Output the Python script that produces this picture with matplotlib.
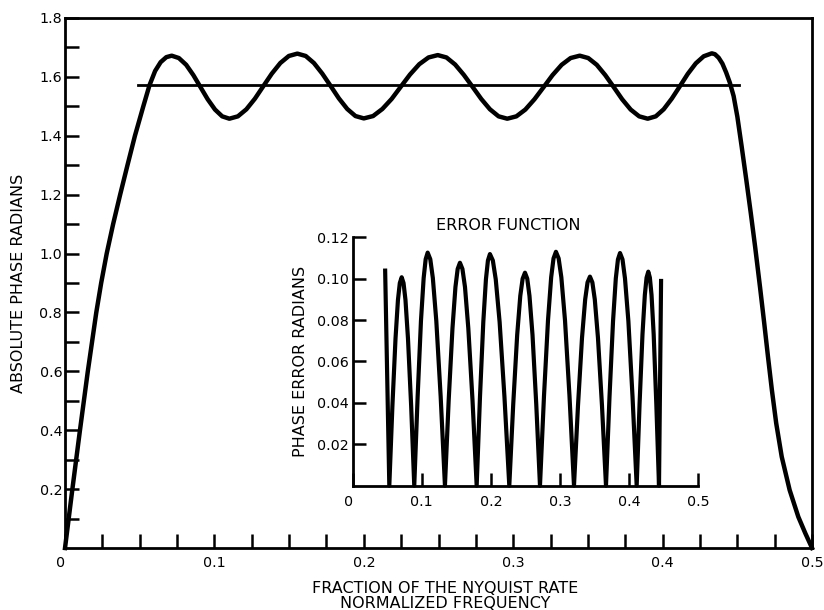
import matplotlib
matplotlib.use("Agg")
import matplotlib.pyplot as plt
from matplotlib.ticker import FixedLocator, MultipleLocator

# absolute phase of the filter
phase_x = [0.0, 0.0048, 0.0099, 0.0152, 0.0209, 0.0242, 0.0279, 0.0322, 0.0369, 0.0418, 0.0468,
           0.0524, 0.0565, 0.0603, 0.0640, 0.0678, 0.0714,
           0.0762, 0.0811, 0.0859, 0.0907, 0.0955, 0.1004, 0.1052, 0.1100,
           0.1157, 0.1214, 0.1271, 0.1328, 0.1384, 0.1441, 0.1498, 0.1555,
           0.1611, 0.1666, 0.1722, 0.1778, 0.1833, 0.1889, 0.1944, 0.2000,
           0.2062, 0.2124, 0.2186, 0.2248, 0.2309, 0.2371, 0.2433, 0.2495,
           0.2553, 0.2611, 0.2669, 0.2728, 0.2786, 0.2844, 0.2902, 0.2960,
           0.3021, 0.3081, 0.3142, 0.3203, 0.3263, 0.3324, 0.3384, 0.3445,
           0.3502, 0.3559, 0.3616, 0.3673, 0.3729, 0.3786, 0.3843, 0.3900,
           0.3954, 0.4007, 0.4061, 0.4115, 0.4168, 0.4222, 0.4275, 0.4329,
           0.4350, 0.4375, 0.4400, 0.4425, 0.4450, 0.4475, 0.4500, 0.4529, 0.4560,
           0.4590, 0.4619, 0.4652, 0.4680, 0.4705, 0.4731, 0.4760, 0.4797,
           0.4850, 0.4908, 0.4955, 0.5000]
phase_y = [0.0, 0.195, 0.396, 0.598, 0.799, 0.900, 1.000, 1.100, 1.200, 1.300, 1.400,
           1.500, 1.571, 1.620, 1.650, 1.667, 1.672,
           1.664, 1.641, 1.606, 1.565, 1.524, 1.489, 1.466, 1.458,
           1.466, 1.490, 1.526, 1.569, 1.611, 1.647, 1.671, 1.679,
           1.671, 1.647, 1.611, 1.569, 1.527, 1.491, 1.467, 1.459,
           1.467, 1.491, 1.525, 1.567, 1.608, 1.643, 1.666, 1.674,
           1.666, 1.642, 1.607, 1.566, 1.525, 1.490, 1.466, 1.458,
           1.466, 1.489, 1.524, 1.565, 1.606, 1.641, 1.664, 1.672,
           1.664, 1.641, 1.606, 1.565, 1.524, 1.489, 1.466, 1.458,
           1.466, 1.490, 1.526, 1.568, 1.610, 1.646, 1.670, 1.680,
           1.677, 1.665, 1.645, 1.615, 1.580, 1.535, 1.465, 1.363, 1.250,
           1.137, 1.023, 0.885, 0.763, 0.650, 0.537, 0.424, 0.310,
           0.197, 0.106, 0.050, 0.0]

# ideal phase, pi/2 over the passband
ideal_x = [0.049, 0.4513]
ideal_y = [1.5708, 1.5708]

# phase error (inset)
err_x = [0.0470, 0.0530, 0.0575, 0.0620, 0.0655, 0.0682, 0.0709, 0.0736, 0.0764, 0.0800, 0.0846, 0.0891,
         0.0940, 0.0988, 0.1027, 0.1056, 0.1085, 0.1123, 0.1160, 0.1210, 0.1273, 0.1335,
         0.1389, 0.1444, 0.1487, 0.1519, 0.1552, 0.1588, 0.1625, 0.1673, 0.1734, 0.1794,
         0.1842, 0.1890, 0.1928, 0.1957, 0.1986, 0.2028, 0.2070, 0.2126, 0.2196, 0.2266,
         0.2323, 0.2380, 0.2425, 0.2459, 0.2493, 0.2526, 0.2558, 0.2602, 0.2656, 0.2710,
         0.2768, 0.2826, 0.2872, 0.2906, 0.2941, 0.2980, 0.3019, 0.3072, 0.3137, 0.3202,
         0.3260, 0.3318, 0.3364, 0.3398, 0.3433, 0.3468, 0.3503, 0.3549, 0.3607, 0.3665,
         0.3716, 0.3767, 0.3807, 0.3838, 0.3868, 0.3904, 0.3940, 0.3989, 0.4049, 0.4109,
         0.4151, 0.4193, 0.4227, 0.4252, 0.4277, 0.4300, 0.4324, 0.4355, 0.4393, 0.4432,
         0.4462]
err_y = [0.1039, 0.0, 0.0386, 0.0712, 0.0897, 0.0979, 0.1007, 0.0979, 0.0897, 0.0712, 0.0386, 0.0,
         0.0431, 0.0796, 0.1003, 0.1094, 0.1126, 0.1094, 0.1003, 0.0796, 0.0431, 0.0,
         0.0412, 0.0761, 0.0960, 0.1047, 0.1077, 0.1047, 0.0960, 0.0761, 0.0412, 0.0,
         0.0429, 0.0791, 0.0997, 0.1088, 0.1119, 0.1088, 0.0997, 0.0791, 0.0429, 0.0,
         0.0394, 0.0728, 0.0917, 0.1000, 0.1029, 0.1000, 0.0917, 0.0728, 0.0394, 0.0,
         0.0433, 0.0799, 0.1007, 0.1098, 0.1130, 0.1098, 0.1007, 0.0799, 0.0433, 0.0,
         0.0387, 0.0714, 0.0900, 0.0982, 0.1010, 0.0982, 0.0900, 0.0714, 0.0387, 0.0,
         0.0430, 0.0795, 0.1001, 0.1093, 0.1124, 0.1093, 0.1001, 0.0795, 0.0430, 0.0,
         0.0396, 0.0731, 0.0921, 0.1005, 0.1034, 0.1005, 0.0921, 0.0731, 0.0396, 0.0,
         0.0989]

x_ticks = [0, 0.1, 0.2, 0.3, 0.4, 0.5]
x_labels = ["0", "0.1", "0.2", "0.3", "0.4", "0.5"]
main_yticks = [0.2, 0.4, 0.6, 0.8, 1.0, 1.2, 1.4, 1.6, 1.8]
main_ylabels = ["0.2", "0.4", "0.6", "0.8", "1.0", "1.2", "1.4", "1.6", "1.8"]
main_yminor = [0.1, 0.3, 0.5, 0.7, 0.9, 1.1, 1.3, 1.5, 1.7]
inset_yticks = [0.02, 0.04, 0.06, 0.08, 0.10, 0.12]
inset_ylabels = ["0.02", "0.04", "0.06", "0.08", "0.10", "0.12"]

fig = plt.figure(figsize=(8.24, 6.10), dpi=100)
ax = fig.add_axes([0.0789, 0.1016, 0.9066, 0.8689])

ax.plot(phase_x, phase_y, color="black", lw=3.2, clip_on=False)
ax.plot(ideal_x, ideal_y, color="black", lw=2.0)
ax.set_xlim(0, 0.5)
ax.set_ylim(0, 1.8)
for s in ax.spines.values():
    s.set_linewidth(2.0)

ax.xaxis.set_major_locator(FixedLocator(x_ticks))
ax.set_xticklabels(x_labels)
ax.xaxis.set_minor_locator(MultipleLocator(0.025))
ax.yaxis.set_major_locator(FixedLocator(main_yticks))
ax.set_yticklabels(main_ylabels)
ax.yaxis.set_minor_locator(FixedLocator(main_yminor))
ax.tick_params(axis="both", which="both", direction="in", length=10, width=1.8,
               top=False, right=False)
ax.tick_params(axis="x", which="major", pad=6, labelsize=10.3)
ax.tick_params(axis="y", which="major", pad=2, labelsize=10.3)
ax.get_xticklabels()[0].set_horizontalalignment("right")

ax.set_ylabel("ABSOLUTE PHASE RADIANS", fontsize=11.5)
ax.yaxis.set_label_coords(-0.052, 0.5)
fig.text(0.54, 0.0356, "FRACTION OF THE NYQUIST RATE", fontsize=11.5, ha="center", va="center")
fig.text(0.54, 0.011, "NORMALIZED FREQUENCY", fontsize=11.5, ha="center", va="center")

# inset with the error function
ins = fig.add_axes([0.428, 0.2038, 0.4194, 0.4072])
ins.plot(err_x, err_y, color="black", lw=3.0, clip_on=False)
ins.set_xlim(0, 0.5)
ins.set_ylim(0, 0.12)
ins.patch.set_alpha(0)
ins.spines["top"].set_visible(False)
ins.spines["right"].set_visible(False)
ins.spines["left"].set_linewidth(2.0)
ins.spines["bottom"].set_linewidth(2.0)
ins.xaxis.set_major_locator(FixedLocator(x_ticks))
ins.set_xticklabels(x_labels)
ins.yaxis.set_major_locator(FixedLocator(inset_yticks))
ins.set_yticklabels(inset_ylabels)
ins.tick_params(axis="both", direction="in", length=9.5, width=1.8, labelsize=10.3)
ins.tick_params(axis="x", pad=7)
ins.tick_params(axis="y", pad=3)
ins.get_xticklabels()[0].set_horizontalalignment("right")
ins.set_ylabel("PHASE ERROR RADIANS", fontsize=11.5)
ins.yaxis.set_label_coords(-0.13, 0.5)
ins.set_title("ERROR FUNCTION", fontsize=11.5, pad=5, x=0.45)

fig.savefig("out.png", dpi=100, facecolor="white")
